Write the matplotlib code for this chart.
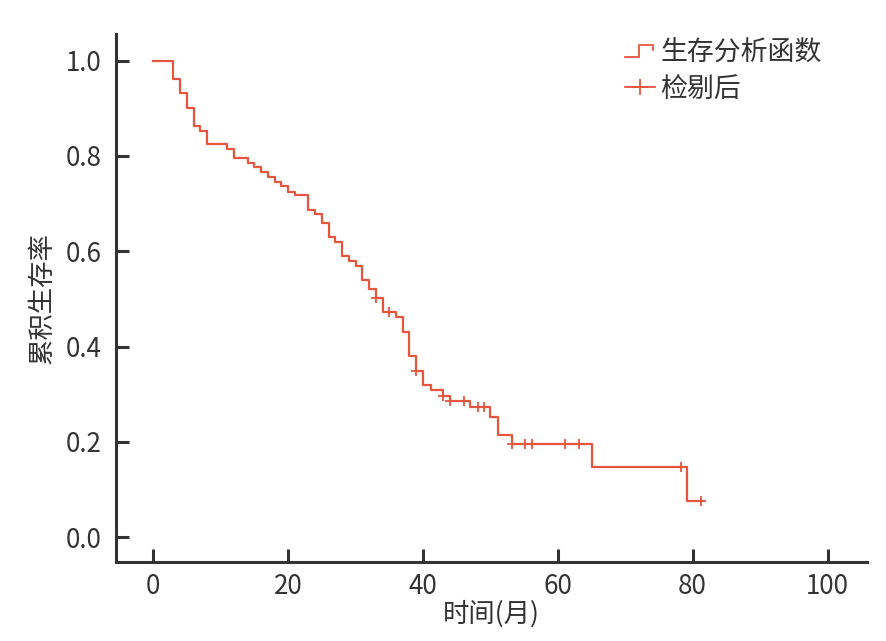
import matplotlib
matplotlib.use("Agg")
import matplotlib.pyplot as plt
from matplotlib.legend_handler import HandlerBase
from matplotlib.lines import Line2D

plt.rcParams['font.family'] = ['Noto Sans CJK SC', 'DejaVu Sans']

# Kaplan-Meier step data (event times and survival after each event)
event_times = [0, 3, 4, 5, 6, 7, 8, 11, 12, 14, 15, 16, 17, 18, 19, 20, 21,
               23, 24, 25, 26, 27, 28, 29, 30, 31, 32, 33, 34, 36, 37, 38,
               39, 40, 41.2, 43, 44, 47, 50, 51.2, 53.2, 65.1, 79.1]
survival = [1.0, 0.961, 0.932, 0.901, 0.863, 0.853, 0.825, 0.814, 0.795,
            0.786, 0.776, 0.766, 0.755, 0.745, 0.736, 0.725, 0.717, 0.687,
            0.678, 0.659, 0.629, 0.619, 0.589, 0.580, 0.570, 0.540, 0.521,
            0.502, 0.472, 0.463, 0.430, 0.381, 0.349, 0.320, 0.308, 0.297,
            0.286, 0.273, 0.253, 0.215, 0.195, 0.148, 0.076]
last_time = 81.6

# Censored observations
censor_times = [33.0, 34.9, 39.0, 43.0, 44.0, 46.1, 48.1, 49.1, 53.2, 55.1,
                56.1, 61.1, 63.1, 78.2, 81.3]
censor_surv = [0.502, 0.472, 0.349, 0.297, 0.286, 0.286, 0.273, 0.273,
               0.195, 0.195, 0.195, 0.195, 0.195, 0.148, 0.076]

xticks = [0, 20, 40, 60, 80, 100]
yticks = [0.0, 0.2, 0.4, 0.6, 0.8, 1.0]
series_labels = ['生存分析函数', '检剔后']
xlabel = '时间(月)'
ylabel = '累积生存率'

color = '#E8553D'
text_color = '#333333'

fig = plt.figure(figsize=(8.86, 6.41), dpi=100)
ax = fig.add_axes([0.1306, 0.1232, 0.8483, 0.8233])

xs = list(event_times) + [last_time]
ys = list(survival) + [survival[-1]]
ax.step(xs, ys, where='post', color=color, lw=1.6)
ax.plot(censor_times, censor_surv, linestyle='none', marker='+',
        color=color, markersize=7, markeredgewidth=1.3)

ax.set_xlim(-5.57, 105.9)
ax.set_ylim(-0.052, 1.055)
ax.set_xticks(xticks)
ax.set_yticks(yticks)
ax.set_yticklabels([f'{v:.1f}' for v in yticks])

for s in ['top', 'right']:
    ax.spines[s].set_visible(False)
for s in ['left', 'bottom']:
    ax.spines[s].set_linewidth(2.2)
    ax.spines[s].set_color(text_color)

ax.tick_params(direction='in', length=9.5, width=2.2, color=text_color,
               labelsize=18.7, labelcolor=text_color)
ax.tick_params(axis='y', pad=10)
ax.tick_params(axis='x', pad=8)

ax.set_xlabel(xlabel, fontsize=19, color=text_color, labelpad=0)
ax.set_ylabel(ylabel, fontsize=19, color=text_color, labelpad=7)


class StepHandler(HandlerBase):
    def create_artists(self, legend, orig_handle, xdescent, ydescent,
                       width, height, fontsize, trans):
        x0 = -xdescent
        y0 = -ydescent
        lx = [x0, x0 + 0.48 * width, x0 + 0.48 * width, x0 + 0.95 * width,
              x0 + 0.95 * width]
        ly = [y0 + 0.2 * height, y0 + 0.2 * height, y0 + 0.8 * height,
              y0 + 0.8 * height, y0 + 0.55 * height]
        ln = Line2D(lx, ly, color=orig_handle.get_color(), lw=1.3,
                    transform=trans)
        return [ln]


h1 = Line2D([], [], color=color, lw=1.3)
h2 = Line2D([], [], color=color, lw=1.3, marker='+', markersize=12,
            markeredgewidth=1.3)
ax.legend([h1, h2], series_labels, loc='upper left',
          bbox_to_anchor=(0.677, 0.99), frameon=False, fontsize=19.4,
          labelcolor=text_color, handlelength=1.12, handletextpad=0.2,
          borderpad=0, borderaxespad=0, labelspacing=0.34, numpoints=1,
          handler_map={h1: StepHandler()})

fig.savefig('out.png', dpi=100)
